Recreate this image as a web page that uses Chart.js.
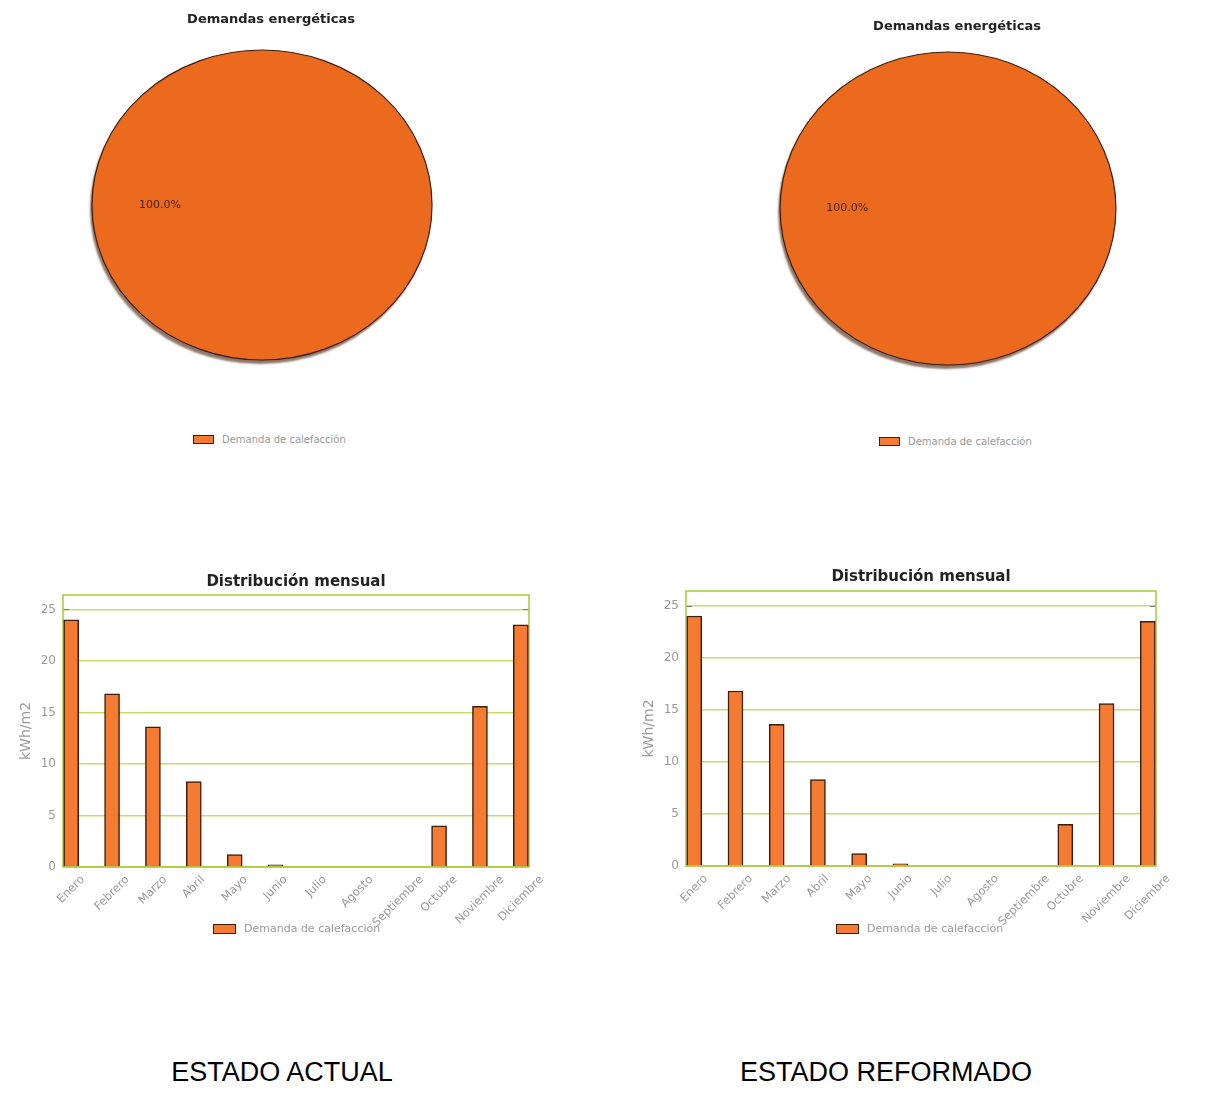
<!DOCTYPE html>
<html lang="es">
<head>
<meta charset="utf-8">
<title>Demandas energéticas</title>
<script src="https://cdn.jsdelivr.net/npm/chart.js@4.4.1/dist/chart.umd.min.js"></script>
<style>
  html, body { margin: 0; padding: 0; background: #fff; }
  body { width: 1223px; height: 1101px; position: relative; overflow: hidden; }
  canvas { position: absolute; }
  .legend { position: absolute; display: flex; align-items: center; color: #999; font-family: "DejaVu Sans", sans-serif; white-space: nowrap; }
  .legend .sw { display: inline-block; background: #f47b31; border: 1px solid #3b1e0e; box-sizing: border-box; margin-right: 8px; }
  .caption { position: absolute; font-family: "Liberation Sans", Arial, sans-serif; font-size: 27px; color: #000; white-space: nowrap; transform: translateX(-50%); }
</style>
</head>
<body>
<canvas id="pieActual" width="400" height="372" style="left:71px;top:0px;width:400px;height:372px"></canvas>
<canvas id="pieReformado" width="400" height="370" style="left:757px;top:7px;width:400px;height:370px"></canvas>
<canvas id="barActual" width="560" height="387" style="left:0px;top:560px;width:560px;height:387px"></canvas>
<canvas id="barReformado" width="564" height="390" style="left:623px;top:556px;width:564px;height:390px"></canvas>

<div class="legend" style="left:193px;top:434px;font-size:10px"><span class="sw" style="width:21px;height:9px"></span><span class="lt"></span></div>
<div class="legend" style="left:879px;top:436px;font-size:10px"><span class="sw" style="width:21px;height:9px"></span><span class="lt"></span></div>
<div class="legend" style="left:213px;top:922px;font-size:11px"><span class="sw" style="width:23px;height:10px"></span><span class="lt"></span></div>
<div class="legend" style="left:836px;top:922px;font-size:11px"><span class="sw" style="width:23px;height:10px"></span><span class="lt"></span></div>

<div class="caption" style="left:282px;top:1057px">ESTADO ACTUAL</div>
<div class="caption" style="left:886px;top:1057px">ESTADO REFORMADO</div>

<script>
// ---- data ----
const seriesName = 'Demanda de calefacción';
const pieLabels = ['Demanda de calefacción'];
const pieActualValues = [100];
const pieReformadoValues = [100];
const months = ['Enero', 'Febrero', 'Marzo', 'Abril', 'Mayo', 'Junio', 'Julio', 'Agosto', 'Septiembre', 'Octubre', 'Noviembre', 'Diciembre'];
const monthlyActual = [24.0, 16.8, 13.6, 8.3, 1.2, 0.2, 0, 0, 0, 4.0, 15.6, 23.5];
const monthlyReformado = [24.0, 16.8, 13.6, 8.3, 1.2, 0.2, 0, 0, 0, 4.0, 15.6, 23.5];
const yTicksStep = 5;

// ---- shared styling ----
const FONT = '"DejaVu Sans", Verdana, sans-serif';
const PIE_FILL = '#ec6a1e';
const BAR_FILL = '#f47b31';
const EDGE = '#3b1e0e';
const FRAME = '#a6c936';
const GRID = '#c6dd68';
const MUTED = '#9a9a9a';

document.querySelectorAll('.legend .lt').forEach(el => { el.textContent = seriesName; });

// Pie drawn as an ellipse with a soft drop shadow, a single outline and percentage labels.
const ellipsePie = {
  id: 'ellipsePie',
  beforeDraw(chart, args, opts) {
    // nudge the title to the right of the pie centre
    const t = chart.titleBlock;
    if (t && !t._shifted) { t.left += opts.titleDx; t.right += opts.titleDx; t._shifted = true; }
  },
  afterLayout(chart) {
    if (chart.titleBlock) chart.titleBlock._shifted = false;
  },
  beforeDatasetsDraw(chart, args, opts) {
    const arc = chart.getDatasetMeta(0).data[0];
    const ctx = chart.ctx;
    ctx.save();
    ctx.translate(arc.x, arc.y);
    ctx.scale(opts.sx, 1);
    ctx.translate(-arc.x, -arc.y);
    ctx.shadowColor = 'rgba(105, 75, 55, 0.75)';
    ctx.shadowOffsetX = -2;
    ctx.shadowOffsetY = 4;
    ctx.shadowBlur = 2;
  },
  afterDatasetsDraw(chart, args, opts) {
    const ctx = chart.ctx;
    const meta = chart.getDatasetMeta(0);
    const arc = meta.data[0];
    // outline of the ellipse (path built inside the scaled context)
    ctx.shadowColor = 'transparent';
    ctx.beginPath();
    ctx.arc(arc.x, arc.y, arc.outerRadius, 0, Math.PI * 2);
    ctx.restore();
    ctx.save();
    ctx.strokeStyle = EDGE;
    ctx.lineWidth = 1.2;
    ctx.stroke();
    ctx.restore();

    const values = chart.data.datasets[0].data;
    const total = values.reduce((a, b) => a + b, 0);
    ctx.save();
    ctx.font = '11px ' + FONT;
    ctx.fillStyle = '#4a2410';
    ctx.textAlign = 'center';
    ctx.textBaseline = 'middle';
    meta.data.forEach((el, i) => {
      const mid = (el.startAngle + el.endAngle) / 2;
      const r = el.outerRadius * opts.labelPos;
      const x = el.x + Math.cos(mid) * r * opts.sx;
      const y = el.y + Math.sin(mid) * r;
      ctx.fillText((values[i] / total * 100).toFixed(1) + '%', x, y);
    });
    ctx.restore();
  }
};

function makePie(id, values, sx, titlePad) {
  return new Chart(document.getElementById(id), {
    type: 'pie',
    data: {
      labels: pieLabels,
      datasets: [{ data: values, backgroundColor: PIE_FILL, borderWidth: 0, clip: false }]
    },
    options: {
      responsive: false, animation: false, devicePixelRatio: 1,
      rotation: 90,
      layout: { padding: { right: 18, bottom: 12 } },
      plugins: {
        legend: { display: false },
        tooltip: { enabled: false },
        title: { display: true, text: 'Demandas energéticas', color: '#222', font: { family: FONT, size: 13, weight: 'bold' }, padding: titlePad },
        ellipsePie: { sx: sx, labelPos: 0.6, titleDx: 9 }
      }
    },
    plugins: [ellipsePie]
  });
}

// Frame around the plotting area with short inner tick marks on both sides, beneath the bars.
const plotFrame = {
  id: 'plotFrame',
  beforeDatasetsDraw(chart) {
    const { ctx, chartArea: a } = chart;
    const y = chart.scales.y;
    ctx.save();
    ctx.strokeStyle = FRAME;
    ctx.lineWidth = 1.5;
    ctx.strokeRect(a.left, a.top, a.right - a.left, a.bottom - a.top);
    ctx.strokeStyle = '#7a7a7a';
    ctx.lineWidth = 1;
    ctx.beginPath();
    y.ticks.forEach(t => {
      const py = Math.round(y.getPixelForValue(t.value)) + 0.5;
      if (py > a.bottom - 1) return;
      ctx.moveTo(a.left + 1, py); ctx.lineTo(a.left + 6, py);
      ctx.moveTo(a.right - 6, py); ctx.lineTo(a.right - 1, py);
    });
    ctx.stroke();
    ctx.restore();
  }
};

// Rotated month labels are centred horizontally on their tick instead of ending at it.
const centreRotatedLabels = {
  id: 'centreRotatedLabels',
  beforeDraw(chart) {
    const scale = chart.scales.x;
    if (!scale || typeof scale.getLabelItems !== 'function') return;
    const items = scale.getLabelItems();
    const ctx = chart.ctx;
    const cos = Math.cos(scale.labelRotation * Math.PI / 180);
    items.forEach(item => {
      if (item._centred) return;
      ctx.save();
      ctx.font = item.font.string;
      const w = ctx.measureText(item.label).width;
      ctx.restore();
      item.options.translation[0] += w / 2 * cos;
      item._centred = true;
    });
  }
};

function makeBars(id, values, titlePad) {
  return new Chart(document.getElementById(id), {
    type: 'bar',
    data: {
      datasets: [{
        label: seriesName,
        data: values.map((v, i) => ({ x: i, y: v })),
        backgroundColor: BAR_FILL, borderColor: EDGE, borderWidth: 1.5, barThickness: 15
      }]
    },
    options: {
      responsive: false, animation: false, devicePixelRatio: 1,
      layout: { padding: { right: 31 } },
      plugins: {
        legend: { display: false },
        tooltip: { enabled: false },
        title: { display: true, fullSize: false, text: 'Distribución mensual', color: '#222', font: { family: FONT, size: 15, weight: 'bold' }, padding: titlePad }
      },
      scales: {
        x: {
          type: 'linear', min: -0.2, max: 11.2, offset: false,
          grid: { display: false }, border: { display: false },
          ticks: {
            stepSize: 1, includeBounds: false, autoSkip: false, minRotation: 45, maxRotation: 45,
            color: MUTED, font: { family: FONT, size: 11.5 }, labelOffset: 0, padding: -2,
            callback: v => months[v] ?? ''
          },
          afterFit: s => { s.height = 80; }
        },
        y: {
          min: 0, max: 26.4,
          ticks: { stepSize: yTicksStep, includeBounds: false, color: MUTED, font: { family: FONT, size: 12 }, padding: 7 },
          grid: { color: GRID, drawTicks: false, lineWidth: 1.5 },
          border: { display: false },
          title: { display: true, text: 'kWh/m2', color: MUTED, font: { family: FONT, size: 14 }, padding: { top: 18 } },
          afterFit: s => { s.width = 63; }
        }
      }
    },
    plugins: [plotFrame, centreRotatedLabels]
  });
}

makePie('pieActual', pieActualValues, 1.097, { top: 12, bottom: 22.4 });
makePie('pieReformado', pieReformadoValues, 1.073, { top: 12, bottom: 17.4 });
makeBars('barActual', monthlyActual, { top: 13, bottom: 4 });
makeBars('barReformado', monthlyReformado, { top: 12, bottom: 5 });
</script>
</body>
</html>
